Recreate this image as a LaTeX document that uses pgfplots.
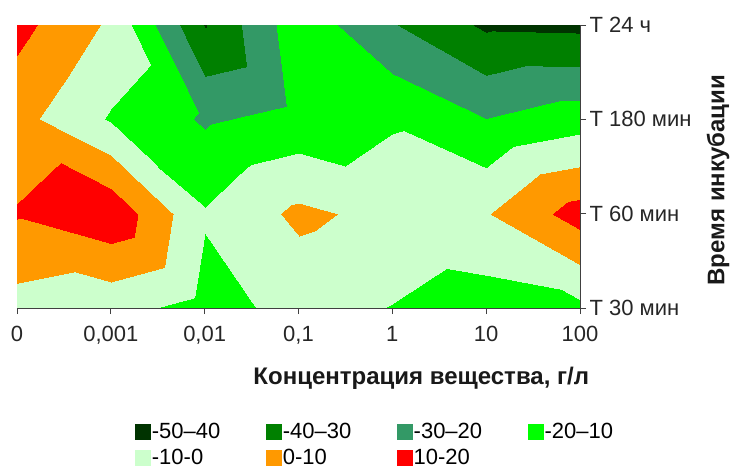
\documentclass[border=0pt]{standalone}
\usepackage{fontspec}
\setmainfont{Liberation Sans}
\usepackage{pgfplots}
\pgfplotsset{compat=1.18}
\definecolor{c1}{RGB}{0,51,0}
\definecolor{c2}{RGB}{0,128,0}
\definecolor{c3}{RGB}{51,153,102}
\definecolor{c4}{RGB}{0,255,0}
\definecolor{c5}{RGB}{204,255,204}
\definecolor{c6}{RGB}{255,153,0}
\definecolor{c7}{RGB}{255,0,0}
\newcommand{\fs}{\fontsize{22bp}{26bp}\selectfont}
\newcommand{\fl}{\fontsize{24bp}{28bp}\selectfont}
\begin{document}
\begin{tikzpicture}
\begin{axis}[
  scale only axis, width=563bp, height=283bp,
  xmin=0, xmax=6, ymin=0, ymax=3,
  axis on top,
  axis x line=bottom, axis y line=right,
  axis line style={-, black!75, line width=0.8bp},
  xtick={0,...,6}, ytick={0,1,2,3},
  xticklabels={0,{0,001},{0,01},{0,1},1,10,100},
  yticklabels={T 30 мин,T 60 мин,T 180 мин,T 24 ч},
  tick align=outside, major tick length=6bp,
  tick style={black!75, line width=0.8bp},
  ticklabel style={font=\fs, text=black!85},
  xticklabel style={yshift=-9bp},
  xlabel={Концентрация вещества, г/л},
  ylabel={Время инкубации},
  label style={font=\bfseries\fl, text=black!90},
  xlabel style={at={(axis description cs:0.718,-0.247)}, anchor=center},
  ylabel style={at={(axis description cs:1.245,0.452)}, anchor=center},
  colormap={cmap}{rgb255=(0,51,0) rgb255=(0,128,0) rgb255=(51,153,102) rgb255=(0,255,0) rgb255=(204,255,204) rgb255=(255,153,0) rgb255=(255,0,0)},
  colormap access=piecewise constant,
  point meta min=-50, point meta max=20,
  legend columns=4,
  legend cell align=left,
  legend style={at={(axis description cs:0.2096,-0.402)}, anchor=north west,
    draw=none, fill=none, inner sep=0pt, outer sep=0pt, font=\fs,
    nodes={inner sep=1.5bp}, row sep=6bp,
    /tikz/every even column/.append style={column sep=44bp}},
]
\addplot[surf, shader=interp, point meta=explicit, forget plot]
  table[x=x, y=y, meta=z] {
x y z
0 0 -3.85
1 0 -6.75
2 0 -13.4
3 0 -7.1
4 0 -10.3
5 0 -15
6 0 -12.3

0 1 10.8
1 1 17.7
2 1 -9.1
3 1 2.2
4 1 -3.1
5 1 -0.65
6 1 14.5

0 2 3.4
1 2 -11
2 2 -21.3
3 2 -16.8
4 2 -11.3
5 2 -19.9
6 2 -14.6

0 3 13.2
1 3 -1.7
2 3 -40.5
3 3 -13.4
4 3 -29.3
5 3 -41.7
6 3 -42.4
};
\addlegendimage{legend image code/.code={\fill[c1] (0bp,-7.5bp) rectangle (15bp,7.5bp);}}
\addlegendentry{-50–40}
\addlegendimage{legend image code/.code={\fill[c2] (0bp,-7.5bp) rectangle (15bp,7.5bp);}}
\addlegendentry{-40–30}
\addlegendimage{legend image code/.code={\fill[c3] (0bp,-7.5bp) rectangle (15bp,7.5bp);}}
\addlegendentry{-30–20}
\addlegendimage{legend image code/.code={\fill[c4] (0bp,-7.5bp) rectangle (15bp,7.5bp);}}
\addlegendentry{-20–10}
\addlegendimage{legend image code/.code={\fill[c5] (0bp,-7.5bp) rectangle (15bp,7.5bp);}}
\addlegendentry{-10-0}
\addlegendimage{legend image code/.code={\fill[c6] (0bp,-7.5bp) rectangle (15bp,7.5bp);}}
\addlegendentry{0-10}
\addlegendimage{legend image code/.code={\fill[c7] (0bp,-7.5bp) rectangle (15bp,7.5bp);}}
\addlegendentry{10-20}
\end{axis}
\pgfresetboundingbox
\path[use as bounding box] (-17bp,-166bp) rectangle (716bp,308bp);
\end{tikzpicture}
\end{document}
